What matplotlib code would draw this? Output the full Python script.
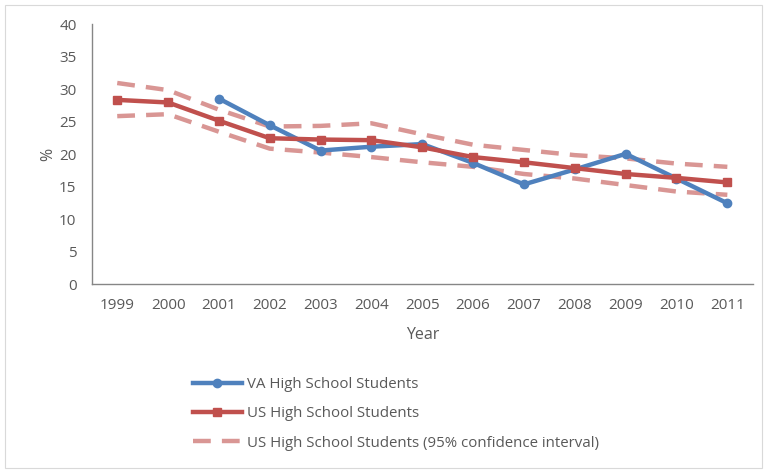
import matplotlib
matplotlib.use("Agg")
import matplotlib.pyplot as plt
from matplotlib.lines import Line2D
from matplotlib.patches import Rectangle

plt.rcParams["font.family"] = ["Open Sans", "DejaVu Sans"]

years = ["1999", "2000", "2001", "2002", "2003", "2004", "2005",
         "2006", "2007", "2008", "2009", "2010", "2011"]

# VA survey starts in 2001
va_years = years[2:]
va_pct = [28.6, 24.5, 20.6, 21.2, 21.6, 18.7, 15.4, 17.7, 20.1, 16.3, 12.5]

us_pct = [28.4, 28.0, 25.2, 22.5, 22.3, 22.2, 21.1, 19.6, 18.8, 17.9, 17.0, 16.4, 15.7]
us_upper = [31.0, 29.9, 26.9, 24.3, 24.4, 24.8, 23.1, 21.5, 20.7, 19.9, 19.4, 18.6, 18.1]
us_lower = [25.9, 26.2, 23.5, 20.9, 20.3, 19.6, 18.8, 18.1, 17.0, 16.3, 15.3, 14.3, 13.8]

BLUE = "#4F81BD"
RED = "#C0504D"
PINK = "#D99694"
TEXT = "#595959"
AXIS = "#868686"

fig = plt.figure(figsize=(7.65, 4.71), dpi=100)
ax = fig.add_axes([0.120, 0.396, 0.864, 0.552])

# light chart-area border
fig.patches.append(Rectangle((5 / 765, 3 / 471), 757 / 765, 463 / 471,
                             transform=fig.transFigure, fill=False,
                             edgecolor="#D9D9D9", linewidth=0.8))

x_all = list(range(len(years)))
x_va = [years.index(y) for y in va_years]

ax.plot(x_all, us_upper, color=PINK, linewidth=3.2, dashes=(4, 2.5), zorder=1)
ax.plot(x_all, us_lower, color=PINK, linewidth=3.2, dashes=(4, 2.5), zorder=1)
ax.plot(x_va, va_pct, color=BLUE, linewidth=3.2, marker="o", markersize=6, zorder=2)
ax.plot(x_all, us_pct, color=RED, linewidth=3.2, marker="s", markersize=6, zorder=3)

ax.set_xlim(-0.5, len(years) - 0.5)
ax.set_ylim(0, 40)
ax.set_yticks(range(0, 41, 5))
ax.set_xticks(x_all)
ax.set_xticklabels(years)
ax.tick_params(length=0, labelsize=11, colors=TEXT)
ax.tick_params(axis="x", pad=10)
ax.tick_params(axis="y", pad=11)

for side in ["top", "right"]:
    ax.spines[side].set_visible(False)
for side in ["left", "bottom"]:
    ax.spines[side].set_color(AXIS)
    ax.spines[side].set_linewidth(1)

ax.set_xlabel("Year", fontsize=11.5, color=TEXT, labelpad=10)
ax.set_ylabel("%", fontsize=11.5, color=TEXT, labelpad=2)

handles = [
    Line2D([], [], color=BLUE, linewidth=3.2, marker="o", markersize=6),
    Line2D([], [], color=RED, linewidth=3.2, marker="s", markersize=6),
    Line2D([], [], color=PINK, linewidth=3.2, dashes=(4, 2.5)),
]
labels = ["VA High School Students", "US High School Students",
          "US High School Students (95% confidence interval)"]
leg = fig.legend(handles, labels, loc="upper left", bbox_to_anchor=(0.244, 0.212),
                 frameon=False, fontsize=10.8, handlelength=3.3, handletextpad=0.3,
                 labelspacing=0.95, borderaxespad=0)
for t in leg.get_texts():
    t.set_color(TEXT)

fig.savefig("out.png", dpi=100)
